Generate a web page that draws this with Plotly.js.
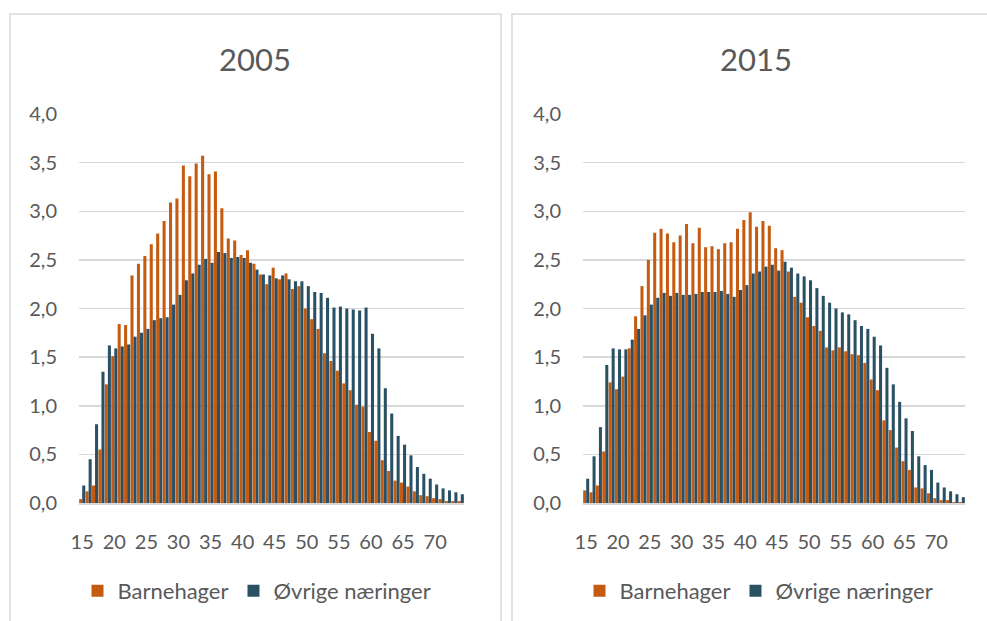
<!DOCTYPE html>
<html>
<head>
<meta charset="utf-8">
<script src="https://cdn.plot.ly/plotly-3.0.1.min.js"></script>
<style>
  html, body { margin: 0; padding: 0; background: #ffffff; }
  #chart { width: 987px; height: 621px; }
</style>
</head>
<body>
<div id="chart"></div>
<script>
// Ages 15..74
const ages = [15,16,17,18,19,20,21,22,23,24,25,26,27,28,29,30,31,32,33,34,35,36,37,38,39,40,41,42,43,44,
              45,46,47,48,49,50,51,52,53,54,55,56,57,58,59,60,61,62,63,64,65,66,67,68,69,70,71,72,73,74];

const seriesNames = ['Barnehager', 'Øvrige næringer'];
const panelTitles = ['2005', '2015'];
const xTickVals = [15,20,25,30,35,40,45,50,55,60,65,70];
const yTickVals = [0,0.5,1,1.5,2,2.5,3,3.5,4];

// 2005
const barnehager2005 = [0.04,0.12,0.18,0.55,1.22,1.51,1.84,1.83,2.34,2.46,2.54,2.66,2.77,2.90,3.09,3.13,3.47,3.36,3.49,3.57,
                        3.38,3.41,3.03,2.72,2.70,2.55,2.60,2.46,2.35,2.25,2.42,2.30,2.36,2.20,2.23,2.00,1.89,1.79,1.54,1.46,
                        1.36,1.23,1.16,1.01,0.99,0.73,0.64,0.44,0.33,0.23,0.21,0.17,0.12,0.08,0.07,0.05,0.04,0.02,0.02,0.02];
const ovrige2005 = [0.18,0.45,0.81,1.35,1.62,1.59,1.61,1.63,1.71,1.75,1.79,1.88,1.90,1.91,2.04,2.14,2.29,2.36,2.45,2.51,
                    2.47,2.58,2.57,2.52,2.53,2.52,2.47,2.40,2.35,2.34,2.31,2.34,2.30,2.28,2.28,2.23,2.17,2.16,2.11,2.01,
                    2.02,2.00,1.99,1.98,2.01,1.74,1.59,1.18,0.92,0.69,0.60,0.49,0.37,0.30,0.25,0.19,0.15,0.13,0.11,0.09];

// 2015
const barnehager2015 = [0.13,0.11,0.18,0.53,1.24,1.17,1.30,1.59,1.92,2.23,2.50,2.78,2.82,2.77,2.68,2.75,2.87,2.67,2.83,2.63,
                        2.64,2.61,2.67,2.68,2.82,2.91,2.99,2.84,2.90,2.85,2.62,2.60,2.38,2.12,2.06,1.91,1.82,1.77,1.60,1.57,
                        1.60,1.56,1.53,1.52,1.44,1.27,1.16,0.85,0.75,0.57,0.43,0.34,0.16,0.15,0.10,0.05,0.03,0.03,0.01,0.01];
const ovrige2015 = [0.25,0.48,0.78,1.42,1.59,1.58,1.58,1.68,1.79,1.93,2.04,2.11,2.16,2.13,2.16,2.14,2.14,2.15,2.17,2.17,
                    2.17,2.18,2.15,2.12,2.19,2.24,2.36,2.38,2.43,2.45,2.39,2.48,2.42,2.36,2.33,2.29,2.21,2.13,2.06,2.00,
                    1.96,1.94,1.88,1.82,1.79,1.71,1.62,1.39,1.22,1.04,0.87,0.74,0.48,0.39,0.34,0.21,0.16,0.12,0.09,0.06];

const ORANGE = '#C55A11';
const BLUE = '#2A5064';
const TEXT = '#595959';
const GRID = '#d9d9d9';
const FONT = 'Lato, "Open Sans", sans-serif';

function barTrace(y, name, color, xa, ya, legend) {
  return {
    type: 'bar', x: ages, y: y, name: name,
    xaxis: xa, yaxis: ya, legend: legend,
    marker: { color: color, line: { width: 0 } },
    hoverinfo: 'skip'
  };
}

const data = [
  barTrace(barnehager2005, seriesNames[0], ORANGE, 'x', 'y', 'legend'),
  barTrace(ovrige2005, seriesNames[1], BLUE, 'x', 'y', 'legend'),
  barTrace(barnehager2015, seriesNames[0], ORANGE, 'x2', 'y2', 'legend2'),
  barTrace(ovrige2015, seriesNames[1], BLUE, 'x2', 'y2', 'legend2')
];

const W = 987, H = 621;
const px = v => v / W;
const py = v => (H - v) / H;

function xAxis(domain, anchor) {
  return {
    domain: domain, anchor: anchor,
    range: [14.5, 74.5], type: 'linear',
    tickmode: 'array', tickvals: xTickVals,
    showgrid: false, zeroline: false,
    showline: true, linecolor: GRID, linewidth: 1.5,
    ticks: '', ticklabelstandoff: 20,
    tickfont: { family: FONT, size: 20, color: TEXT },
    fixedrange: true
  };
}
function yAxis(domain, anchor) {
  return {
    domain: domain, anchor: anchor,
    range: [0, 4], tickmode: 'array', tickvals: yTickVals, tickformat: '.1f',
    showgrid: true, gridcolor: GRID, gridwidth: 1.5,
    zeroline: false, showline: false,
    ticks: '', ticklabelstandoff: 21,
    tickfont: { family: FONT, size: 20, color: TEXT },
    fixedrange: true
  };
}

const yDom = [py(503), py(114)];

const layout = {
  width: W, height: H,
  margin: { l: 0, r: 0, t: 0, b: 0 },
  paper_bgcolor: '#ffffff', plot_bgcolor: '#ffffff',
  separators: ', ',
  barmode: 'group', bargap: 0.05, bargroupgap: 0,
  font: { family: FONT, color: TEXT },
  xaxis: xAxis([px(79), px(464)], 'y'),
  yaxis: yAxis(yDom, 'x'),
  xaxis2: xAxis([px(583), px(965)], 'y2'),
  yaxis2: yAxis(yDom, 'x2'),
  legend: {
    orientation: 'h', x: px(257), xanchor: 'center', y: py(591), yanchor: 'middle',
    font: { family: FONT, size: 22, color: TEXT }, itemwidth: 30, traceorder: 'normal',
    bgcolor: 'rgba(0,0,0,0)'
  },
  legend2: {
    orientation: 'h', x: px(759), xanchor: 'center', y: py(591), yanchor: 'middle',
    font: { family: FONT, size: 22, color: TEXT }, itemwidth: 30, traceorder: 'normal',
    bgcolor: 'rgba(0,0,0,0)'
  },
  annotations: [
    { text: panelTitles[0], xref: 'paper', yref: 'paper', x: px(255), y: py(59), xanchor: 'center', yanchor: 'middle',
      showarrow: false, font: { family: FONT, size: 31, color: TEXT } },
    { text: panelTitles[1], xref: 'paper', yref: 'paper', x: px(756), y: py(59), xanchor: 'center', yanchor: 'middle',
      showarrow: false, font: { family: FONT, size: 31, color: TEXT } }
  ],
  shapes: [
    { type: 'rect', xref: 'paper', yref: 'paper', x0: px(10), x1: px(501), y0: -0.05, y1: py(14),
      line: { color: GRID, width: 1.5 }, fillcolor: 'rgba(0,0,0,0)', layer: 'below' },
    { type: 'rect', xref: 'paper', yref: 'paper', x0: px(512), x1: 1.05, y0: -0.05, y1: py(14),
      line: { color: GRID, width: 1.5 }, fillcolor: 'rgba(0,0,0,0)', layer: 'below' }
  ]
};

Plotly.newPlot('chart', data, layout, { displayModeBar: false, staticPlot: true });
</script>
</body>
</html>
